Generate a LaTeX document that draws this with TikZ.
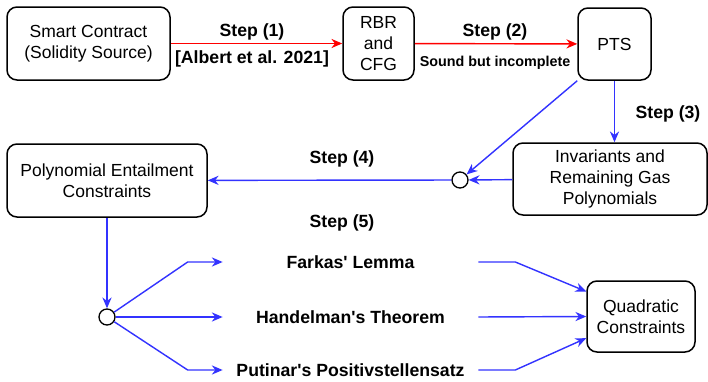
\documentclass[tikz,border=0pt]{standalone}
\usepackage{fontspec}
\setmainfont{Liberation Sans}
\usepackage{tikz}
\usetikzlibrary{arrows.meta, positioning}
\usepackage{xcolor}
\definecolor{xblue}{HTML}{3333FF}
\definecolor{xred}{HTML}{FF0000}

\begin{document}
\begin{tikzpicture}[x=0.6pt, y=-0.6pt,
		every node/.style={font=\fontsize{10.5}{12.6}\selectfont},
		box/.style={draw, line width=0.9pt, rounded corners=6pt, align=center, inner sep=2pt},
		junc/.style={draw, line width=0.8pt, circle, fill=white, minimum size=9.6pt, inner sep=0pt},
		lbl/.style={font=\fontsize{10.6}{12.6}\selectfont\bfseries},
		small lbl/.style={font=\fontsize{8.6}{10}\selectfont\bfseries},
		method/.style={lbl, minimum width=153pt, inner sep=0pt},
		redarr/.style={draw=xred, line width=0.85pt, -{Stealth[length=6.5pt, width=5.5pt]}},
		bluearr/.style={draw=xblue, line width=0.85pt, -{Stealth[length=6.5pt, width=5.5pt]}},
	]
		\useasboundingbox (0,0) rectangle (708,381);
		% boxes
		\node[box, minimum width=97.8pt, minimum height=43.8pt] (sc) at (88.5,43.5) {Smart Contract\\(Solidity Source)};
		\node[box, minimum width=42.6pt, minimum height=43.8pt] (rbr) at (378.5,43.5) {RBR\\and\\CFG};
		\node[box, minimum width=43.8pt, minimum height=43.2pt] (pts) at (614.5,44) {PTS};
		\node[box, minimum width=116.4pt, minimum height=43.2pt] (inv) at (610,179) {Invariants and\\Remaining Gas\\Polynomials};
		\node[box, minimum width=120pt, minimum height=43.8pt] (pec) at (107,180.5) {Polynomial Entailment\\Constraints};
		\node[box, minimum width=64.8pt, minimum height=42.6pt] (qc) at (641,316.5) {Quadratic\\Constraints};
		% junctions
		\node[junc] (j1) at (460,180) {};
		\node[junc] (j2) at (107,317) {};
		% step labels
		\node[lbl] (s1) at (252,32) {Step (1)};
		\node[lbl] (cite) at (252,59) {[Albert et al. 2021]};
		\node[lbl] (s2) at (495,32) {Step (2)};
		\node[small lbl] (sound) at (495,63) {Sound but incomplete};
		\node[lbl] (s3) at (668,114) {Step (3)};
		\node[lbl] (s4) at (342,159) {Step (4)};
		\node[lbl] (s5) at (342,223) {Step (5)};
		% methods
		\node[method] (fl) at (350.5,262) {Farkas\textquotesingle{} Lemma};
		\node[method] (ht) at (350.5,317) {Handelman\textquotesingle s Theorem};
		\node[method] (pp) at (350.5,370) {Putinar\textquotesingle s Positivstellensatz};

		\draw[redarr] (sc) -- (rbr);
		\draw[redarr] (rbr) -- (pts);
		\draw[bluearr] (pts.south) -- (pts.south |- inv.north);
		\draw[bluearr] (pts.south west) -- (j1);
		\draw[bluearr] (inv) -- (j1);
		\draw[bluearr] (j1) -- (pec);
		\draw[bluearr] (pec) -- (j2);

		\draw[bluearr] (j2) -- ([xshift=-21pt]fl.west) -- (fl.west);
		\draw[bluearr] (j2) -- (ht.west);
		\draw[bluearr] (j2) -- ([xshift=-21pt]pp.west) -- (pp.west);
		\draw[bluearr] (fl.east) -- ([xshift=22.2pt]fl.east) -- ([yshift=15pt]qc.west);
		\draw[bluearr] (ht.east) -- (qc.west);
		\draw[bluearr] (pp.east) -- ([xshift=22.2pt]pp.east) -- ([yshift=-13pt]qc.west);
	\end{tikzpicture}
\end{document}
